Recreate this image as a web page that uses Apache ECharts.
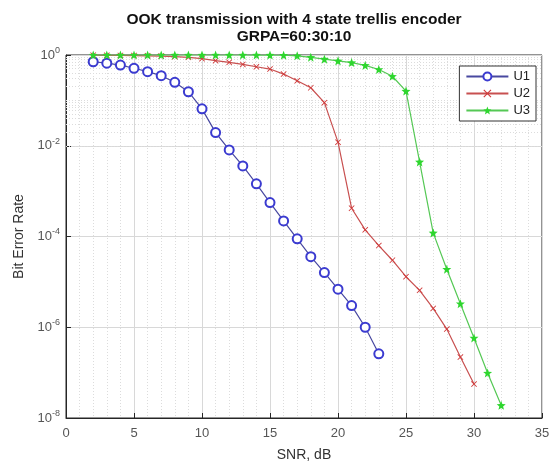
<!DOCTYPE html>
<html>
<head>
<meta charset="utf-8">
<script src="https://cdn.jsdelivr.net/npm/echarts@6/dist/echarts.min.js"></script>
<style>html,body{margin:0;padding:0;background:#fff;}#c{width:551px;height:461px;}</style>
</head>
<body>
<div id="c"></div>
<script>
// ---- data ----
var snrU1 = [2,3,4,5,6,7,8,9,10,11,12,13,14,15,16,17,18,19,20,21,22,23];
var berU1 = [0.71,0.66,0.60,0.51,0.43,0.35,0.25,0.155,0.065,0.0195,0.0081,0.0036,0.00145,5.6e-4,2.2e-4,8.9e-5,3.6e-5,1.6e-5,6.9e-6,3.0e-6,1.0e-6,2.6e-7];
var snrU2 = [2,3,4,5,6,7,8,9,10,11,12,13,14,15,16,17,18,19,20,21,22,23,24,25,26,27,28,29,30];
var berU2 = [0.99,0.985,0.98,0.97,0.96,0.945,0.92,0.89,0.83,0.75,0.69,0.62,0.55,0.49,0.38,0.27,0.19,0.089,0.012,4.2e-4,1.4e-4,6.3e-5,3.0e-5,1.3e-5,6.5e-6,2.6e-6,9.1e-7,2.2e-7,5.6e-8];
var snrU3 = [2,3,4,5,6,7,8,9,10,11,12,13,14,15,16,17,18,19,20,21,22,23,24,25,26,27,28,29,30,31,32];
var berU3 = [1.0,1.0,1.0,1.0,1.0,1.0,1.0,1.0,1.0,1.0,1.0,0.999,0.998,0.995,0.99,0.96,0.89,0.81,0.74,0.68,0.59,0.48,0.34,0.16,0.0044,1.2e-4,1.9e-5,3.3e-6,5.8e-7,9.8e-8,1.9e-8];
var seriesNames = ['U1','U2','U3'];
var xTicks = {min:0, max:35, step:5};
var yDecades = {minExp:-8, maxExp:0, labelStep:2};

function zip(xs, ys){ var o=[]; for(var i=0;i<xs.length;i++) o.push([xs[i], ys[i]]); return o; }

// minor log grid values (k*10^e) excluding labelled decades
var minorY = [];
for (var e = yDecades.minExp; e < yDecades.maxExp; e++) {
  for (var k = 1; k <= 9; k++) {
    if (k === 1 && (e - yDecades.minExp) % yDecades.labelStep === 0) continue;
    minorY.push({yAxis: k * Math.pow(10, e)});
  }
}

var chart = echarts.init(document.getElementById('c'), null, {renderer:'canvas'});
var font = 'Liberation Sans, Arial, sans-serif';
var xMark = 'path://M0,1L1,0L5,4L9,0L10,1L6,5L10,9L9,10L5,6L1,10L0,9L4,5Z';
var starMark = 'path://M5,0L6.3,3.4L10,3.6L7.1,5.9L8.1,9.6L5,7.5L1.9,9.6L2.9,5.9L0,3.6L3.7,3.4Z';

chart.setOption({
  backgroundColor:'#fff',
  animation:false,
  title:{
    text:'OOK transmission with 4 state trellis encoder\nGRPA=60:30:10',
    left:289, top:6, textAlign:'center',
    textStyle:{fontFamily:font, fontSize:15.5, fontWeight:'bold', color:'#111', lineHeight:17}
  },
  legend:{
    data:seriesNames, orient:'vertical', right:15, top:66, z:20,
    itemWidth:42, itemHeight:10, itemGap:4, padding:[4,6,4,6],
    borderColor:'#333', borderWidth:1, backgroundColor:'#fff',
    textStyle:{fontFamily:font, fontSize:13, color:'#222'}
  },
  grid:{left:66, right:9, top:55, bottom:43, outerBoundsMode:'none', containLabel:false,
        show:true, borderColor:'#262626', borderWidth:1, backgroundColor:'#fff'},
  xAxis:{
    type:'value', min:xTicks.min, max:xTicks.max, interval:xTicks.step,
    name:'SNR, dB', nameLocation:'middle', nameGap:30,
    nameTextStyle:{fontFamily:font, fontSize:14, color:'#333'},
    axisLine:{lineStyle:{color:'#262626'}},
    axisTick:{inside:true, length:5, lineStyle:{color:'#262626'}},
    axisLabel:{fontFamily:font, fontSize:13, color:'#555', margin:9},
    splitLine:{show:true, lineStyle:{color:'#d8d8d8', width:1}},
    minorTick:{show:false, splitNumber:5},
    minorSplitLine:{show:true, lineStyle:{color:'#dcdcdc', type:[1,2]}}
  },
  yAxis:{
    type:'log', logBase:10, min:Math.pow(10,yDecades.minExp), max:Math.pow(10,yDecades.maxExp), interval:yDecades.labelStep,
    name:'Bit Error Rate', nameLocation:'middle', nameGap:40,
    nameTextStyle:{fontFamily:font, fontSize:14, color:'#333'},
    axisLine:{lineStyle:{color:'#262626'}},
    axisTick:{inside:true, length:5, lineStyle:{color:'#262626'}},
    splitLine:{show:true, lineStyle:{color:'#d8d8d8', width:1}},
    axisLabel:{
      fontFamily:font, color:'#555', margin:6,
      formatter:function(v){ var ex=Math.round(Math.log10(v)); return '{b|10}{s|'+ex+'}'; },
      rich:{b:{fontSize:13, color:'#555', fontFamily:font}, s:{fontSize:9, color:'#555', fontFamily:font, padding:[0,0,9,0]}}
    }
  },
  series:[
    {name:'__grid', type:'line', data:[], silent:true, z:1,
     markLine:{silent:true, z:1, symbol:'none', label:{show:false}, animation:false,
       lineStyle:{color:'#dcdcdc', type:[1,2], width:1}, data:minorY}},
    {name:'U1', type:'line', data:zip(snrU1, berU1), symbol:'emptyCircle', symbolSize:9,
     lineStyle:{color:'#4848a0', width:1.2}, itemStyle:{color:'#3b3bd0', borderColor:'#3b3bd0', borderWidth:1}, z:3},
    {name:'U2', type:'line', data:zip(snrU2, berU2), symbol:xMark, symbolSize:6,
     lineStyle:{color:'#c85050', width:1.2}, itemStyle:{color:'#d03a3a'}, z:3},
    {name:'U3', type:'line', data:zip(snrU3, berU3), symbol:starMark, symbolSize:9,
     lineStyle:{color:'#55c855', width:1.2}, itemStyle:{color:'#2ed62e'}, z:3}
  ]
});
</script>
</body>
</html>
